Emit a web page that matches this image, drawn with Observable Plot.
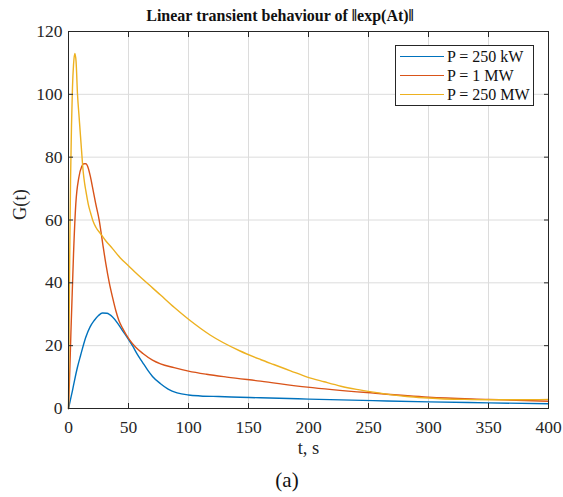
<!DOCTYPE html>
<html>
<head>
<meta charset="utf-8">
<script src="https://cdn.jsdelivr.net/npm/d3@7"></script>
<script src="https://cdn.jsdelivr.net/npm/@observablehq/plot@0.6"></script>
<style>
  html, body { margin: 0; padding: 0; background: white; }
  #wrap { position: relative; width: 563px; height: 497px; font-family: "Liberation Serif", "Times New Roman", serif; color: #111; }
  #title { position: absolute; left: 0; width: 560px; top: 6px; text-align: center; font-weight: bold; font-size: 16px; line-height: 20px; }
  #caption { position: absolute; left: 0; width: 574px; top: 467px; text-align: center; font-size: 21px; line-height: 26px; }
  #chart { position: absolute; left: 0; top: 0; }
  #legend { position: absolute; left: 395px; top: 45px; width: 137px; height: 59px; border: 1px solid #262626; background: white; }
  .row { position: absolute; left: 4px; height: 19px; display: flex; align-items: center; font-size: 16px; white-space: nowrap; }
  .sw { width: 44px; height: 0; border-top: 1.5px solid; margin-right: 3px; }
</style>
</head>
<body>
<div id="wrap">
  <div id="chart"></div>
  <div id="title">Linear transient behaviour of ‖exp(At)‖</div>
  <div id="legend"></div>
  <div id="caption">(a)</div>
</div>
<script>
// Series names and colours
const seriesNames = ["P = 250 kW", "P = 1 MW", "P = 250 MW"];
const seriesColors = ["#0072BD", "#D95319", "#EDB120"];

// Axis ticks
const xTicks = [0, 50, 100, 150, 200, 250, 300, 350, 400];
const yTicks = [0, 20, 40, 60, 80, 100, 120];

// P = 250 kW
const t250kW = [0, 1.5, 3.3, 5, 7.5, 10, 14.4, 18, 21.4, 25, 28.3, 32, 36.7, 41, 45, 49, 53.3, 57, 61.7, 66, 70, 76.7, 83, 90.5, 100, 110, 125, 143, 160, 200, 254, 300, 350, 400];
const G250kW = [0, 2.6, 5.7, 8.9, 13.2, 16.8, 22.7, 26, 28, 29.6, 30.4, 30.3, 29.1, 27.1, 24.8, 22.6, 20, 17.5, 14.7, 12.2, 10.2, 7.9, 6.2, 5.0, 4.3, 4.0, 3.8, 3.6, 3.4, 3.0, 2.5, 2.1, 1.8, 1.5];

// P = 1 MW
const t1MW = [0, 1, 2, 2.8, 4.2, 6.1, 8.6, 11, 12.8, 14.4, 16.5, 18.3, 20, 22.5, 25.6, 28.5, 31.1, 34, 36.7, 39.4, 42, 45, 50.6, 56, 62, 70, 76.7, 88, 100, 115, 132, 160, 199, 254, 300, 350, 400];
const G1MW = [0, 11, 24, 33.3, 49.3, 65.2, 73.5, 77, 77.9, 77.9, 76.5, 73.7, 70.5, 65.5, 59.9, 52.5, 46.1, 40, 35.4, 31.2, 28, 25.6, 22, 19.5, 17.5, 15.4, 14.2, 13, 11.9, 10.9, 10, 8.7, 6.8, 4.9, 3.6, 2.9, 2.3];

// P = 250 MW
const t250MW = [0, 0.5, 1, 1.7, 2.5, 3.3, 4.2, 5.3, 6.3, 7.5, 8.9, 10.8, 12.2, 13.5, 14.4, 16.5, 18.6, 20.5, 22.8, 27, 31, 36.7, 43, 50.6, 56, 61.7, 70, 76.7, 88, 100, 118, 143, 160, 171, 185, 199, 213, 227, 240, 254, 268, 282, 296, 310, 330, 350, 375, 400];
const G250MW = [0, 25, 48, 72.6, 90, 102, 109.5, 113, 110.5, 100, 92.5, 82.5, 75.5, 71.5, 69.4, 65, 62, 59.6, 57.7, 55.5, 53.4, 50.9, 48, 45.2, 43.2, 41.2, 38.4, 36.1, 32.2, 28.4, 23.4, 18.3, 15.6, 14.0, 12, 10, 8.5, 7.1, 6.1, 5.2, 4.4, 3.8, 3.4, 3.1, 2.9, 2.8, 2.8, 2.9];

const seriesT = [t250kW, t1MW, t250MW];
const seriesG = [G250kW, G1MW, G250MW];

const rows = [];
seriesNames.forEach((name, i) => {
  seriesT[i].forEach((t, j) => rows.push({series: name, t, G: seriesG[i][j]}));
});

const chart = Plot.plot({
  width: 563,
  height: 472,
  marginLeft: 68,
  marginRight: 15,
  marginTop: 31,
  marginBottom: 64,
  style: {fontFamily: '"Liberation Serif", "Times New Roman", serif', fontSize: "17.5px", color: "#262626", background: "white"},
  x: {domain: [0, 400]},
  y: {domain: [0, 120]},
  color: {domain: seriesNames, range: seriesColors},
  marks: [
    Plot.gridX(xTicks, {stroke: "#dcdcdc", strokeOpacity: 1}),
    Plot.gridY(yTicks, {stroke: "#dcdcdc", strokeOpacity: 1}),
    Plot.line(rows, {x: "t", y: "G", z: "series", stroke: "series", strokeWidth: 1.4, curve: "monotone-x"}),
    Plot.frame({stroke: "#262626"}),
    Plot.axisX(xTicks, {tickSize: -5, tickPadding: 17.5, label: null}),
    Plot.axisX(xTicks, {anchor: "top", tickSize: -5, fill: "none", label: null}),
    Plot.axisY(yTicks, {tickSize: -5, tickPadding: 11, label: null}),
    Plot.axisY(yTicks, {anchor: "right", tickSize: -5, fill: "none", label: null}),
    Plot.text(["t, s"], {text: d => d, frameAnchor: "bottom", dy: 45, fontSize: 18.5, fill: "#262626"}),
    Plot.text(["G(t)"], {text: d => d, frameAnchor: "left", dx: -48, rotate: -90, fontSize: 18.5, fill: "#262626"})
  ]
});
document.getElementById("chart").appendChild(chart);

const legend = document.getElementById("legend");
seriesNames.forEach((name, i) => {
  const row = document.createElement("div");
  row.className = "row";
  row.style.top = (1 + i * 19) + "px";
  const sw = document.createElement("div");
  sw.className = "sw";
  sw.style.borderTopColor = seriesColors[i];
  const label = document.createElement("span");
  label.textContent = name;
  row.appendChild(sw);
  row.appendChild(label);
  legend.appendChild(row);
});
</script>
</body>
</html>
